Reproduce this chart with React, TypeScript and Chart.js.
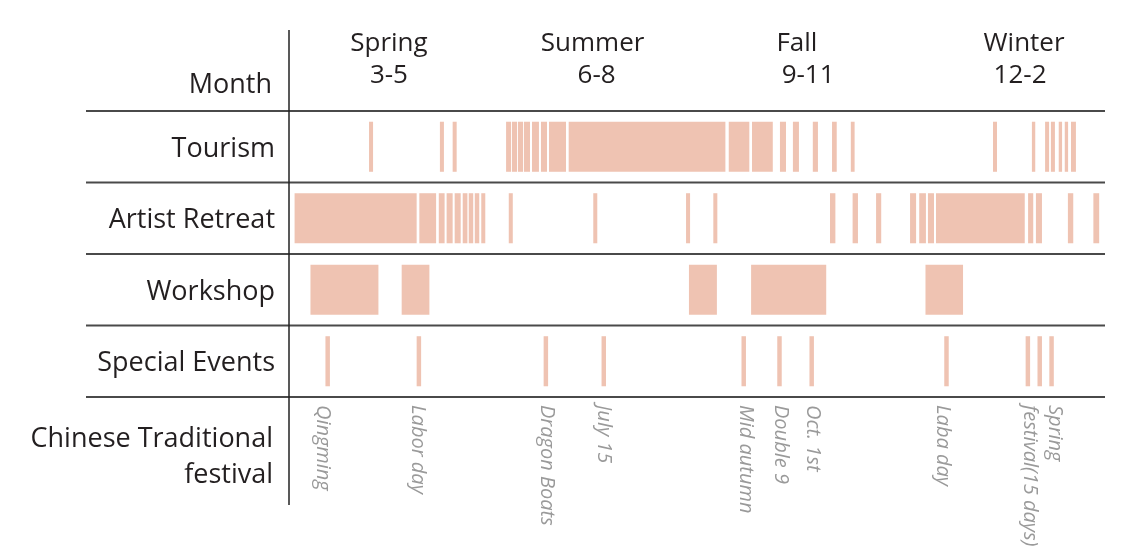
import React, { useEffect, useRef } from 'react';
import { Chart, registerables } from 'chart.js';

Chart.register(...registerables);

// x axis: days counted from March 1 (0) to the end of February (365)
const rowLabels = ['Tourism', 'Artist Retreat', 'Workshop', 'Special Events'];

const tourism: [number, number][] = [
  [35.8, 37.6], [67.5, 69.3], [73.2, 75.0], [97.1, 99.3], [99.7, 102.0],
  [102.4, 104.7], [105.1, 107.8], [108.7, 111.8], [112.7, 115.4], [116.3, 123.9],
  [125.1, 195.2], [196.7, 205.9], [207.1, 216.4], [219.6, 222.3], [225.4, 228.1],
  [234.3, 236.6], [242.9, 245.0], [251.3, 253.0], [314.9, 316.7], [332.3, 333.8],
  [338.2, 340.0], [340.8, 342.6], [344.3, 345.8], [347.0, 348.5], [349.8, 352.0],
];

const artistRetreat: [number, number][] = [
  [2.5, 57.1], [58.3, 65.8], [67.0, 69.6], [70.5, 73.2], [74.1, 76.8],
  [77.7, 79.8], [80.4, 82.4], [83.1, 85.1], [86.0, 87.8], [98.3, 100.1],
  [136.1, 137.9], [177.6, 179.4], [189.8, 191.6], [242.0, 244.4], [252.1, 254.5],
  [262.6, 264.9], [277.8, 280.5], [281.9, 284.9], [285.8, 288.5], [289.4, 329.1],
  [330.6, 332.9], [334.1, 336.8], [348.4, 350.8], [359.8, 362.4],
];

const workshop: [number, number][] = [
  [9.6, 40.0], [50.4, 62.8], [178.9, 191.4], [206.7, 240.3], [284.7, 301.5],
];

const specialEvents: [number, number][] = [
  [16.3, 18.3], [57.1, 59.1], [113.9, 115.9], [139.8, 141.8], [202.4, 204.4],
  [218.4, 220.4], [232.8, 234.8], [293.1, 295.1], [329.5, 331.5], [334.8, 336.8],
  [340.1, 342.1],
];

const seasonNames = ['Spring', 'Summer', 'Fall', 'Winter'];
const seasonNameDays = [44.7, 135.8, 227.2, 328.8];
const seasonMonths = ['3-5', '6-8', '9-11', '12-2'];
const seasonMonthDays = [44.7, 137.6, 232.2, 327.0];

const festivalLabels: string[][] = [
  ['Qingming'], ['Labor day'], ['Dragon Boats'], ['July 15'], ['Mid autumn'],
  ['Double 9'], ['Oct. 1st'], ['Laba day'], ['Spring', 'festival(15 days)'],
];
const festivalDays = [15.2, 57.7, 115.4, 140.9, 204.4, 220.1, 234.4, 292.5, 337.0];

const rowSeries = [tourism, artistRetreat, workshop, specialEvents];

const TEXT = '#231f20';
const FONT = '"Open Sans", "Noto Sans", sans-serif';

const tablePlugin = {
  id: 'tablePlugin',
  beforeDatasetsDraw(chart: any) {
    const { ctx, chartArea: a, scales } = chart;
    const y = scales.y;
    const band = (a.bottom - a.top) / rowLabels.length;
    ctx.save();
    ctx.strokeStyle = '#4a4a4a';
    ctx.lineWidth = 2;
    const bounds: number[] = [];
    for (let i = 0; i < rowLabels.length; i++) bounds.push(y.getPixelForValue(i) - band / 2);
    bounds.push(y.getPixelForValue(rowLabels.length - 1) + band / 2);
    bounds.forEach((b) => {
      ctx.beginPath();
      ctx.moveTo(a.left - 203, b);
      ctx.lineTo(a.right, b);
      ctx.stroke();
    });
    ctx.strokeStyle = '#222';
    ctx.lineWidth = 1.5;
    ctx.beginPath();
    ctx.moveTo(a.left, a.top - 81);
    ctx.lineTo(a.left, a.bottom + 108);
    ctx.stroke();
    ctx.restore();
  },
  afterDraw(chart: any) {
    const { ctx, chartArea: a, scales } = chart;
    const x = scales.x;
    const y = scales.y;
    ctx.save();
    ctx.fillStyle = TEXT;
    ctx.textBaseline = 'alphabetic';

    // Row labels
    ctx.font = `27px ${FONT}`;
    ctx.textAlign = 'right';
    const lx = a.left - 14;
    ctx.fillText('Month', lx - 3, a.top - 18);
    rowLabels.forEach((l, i) => ctx.fillText(l, lx, y.getPixelForValue(i) + 10));
    ctx.fillText('Chinese Traditional', lx - 2, a.bottom + 50);
    ctx.fillText('festival', lx - 2, a.bottom + 86);

    // Season header
    ctx.font = `26px ${FONT}`;
    ctx.textAlign = 'center';
    seasonNames.forEach((s, i) => ctx.fillText(s, x.getPixelForValue(seasonNameDays[i]), a.top - 60));
    seasonMonths.forEach((s, i) => ctx.fillText(s, x.getPixelForValue(seasonMonthDays[i]), a.top - 28));

    // Festival labels (rotated)
    ctx.fillStyle = '#9a9a9a';
    ctx.font = `italic 20px ${FONT}`;
    ctx.textAlign = 'left';
    ctx.textBaseline = 'middle';
    festivalLabels.forEach((lines, i) => {
      const cx = x.getPixelForValue(festivalDays[i]);
      const lh = 25;
      const off = ((lines.length - 1) * lh) / 2;
      ctx.save();
      ctx.translate(cx, a.bottom + 8);
      ctx.rotate(Math.PI / 2);
      lines.forEach((t, j) => ctx.fillText(t, 0, -off + j * lh));
      ctx.restore();
    });
    ctx.restore();
  },
};

export default function App() {
  const ref = useRef<HTMLCanvasElement | null>(null);
  useEffect(() => {
    if (!ref.current) return;
    const data: { x: [number, number]; y: string }[] = [];
    rowSeries.forEach((series, i) => series.forEach((r) => data.push({ x: r, y: rowLabels[i] })));
    const chart = new Chart(ref.current, {
      type: 'bar',
      data: {
        labels: rowLabels,
        datasets: [
          {
            data: data as any,
            backgroundColor: '#efc3b2',
            borderWidth: 0,
            barPercentage: 0.7,
            categoryPercentage: 1,
            grouped: false,
          } as any,
        ],
      },
      options: {
        indexAxis: 'y',
        animation: false,
        responsive: false,
        devicePixelRatio: 1,
        layout: { padding: { left: 289, right: 19, top: 111, bottom: 161 } },
        plugins: { legend: { display: false }, tooltip: { enabled: false } },
        scales: {
          x: { type: 'linear', min: 0, max: 365, display: false },
          y: { type: 'category', labels: rowLabels, offset: true, display: false },
        },
      },
      plugins: [tablePlugin],
    });
    return () => chart.destroy();
  }, []);
  return (
    <div style={{ position: 'fixed', left: 0, top: 0, width: 1124, height: 558, background: '#fff' }}>
      <canvas ref={ref} width={1124} height={558} />
    </div>
  );
}
